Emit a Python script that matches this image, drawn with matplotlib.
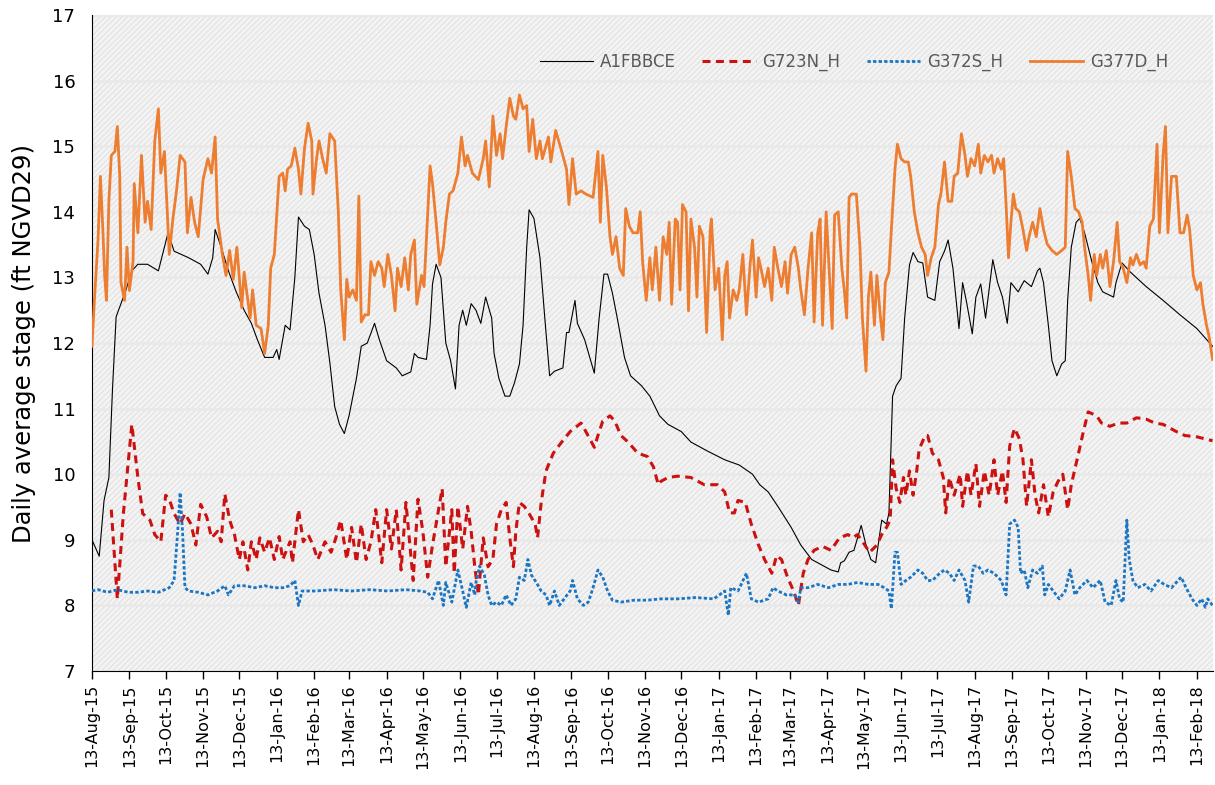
import pandas as pd
import matplotlib
matplotlib.use("Agg")
import matplotlib.pyplot as plt
import matplotlib.dates as mdates
from matplotlib.patches import Rectangle

# days after 13-Aug-2015, daily average stage (ft NGVD29)
start = pd.Timestamp("2015-08-13")
end_day = 928

a1fbbce = [
    (0, 9.0), (6, 8.75), (10, 9.6), (14, 9.95), (17, 11.3), (20, 12.4), (24, 12.6), (28, 12.8), (33, 13.1),
    (38, 13.2), (46, 13.2), (55, 13.1), (63, 13.68), (68, 13.4), (80, 13.3), (90, 13.2), (96, 13.05),
    (100, 13.3), (102, 13.73), (107, 13.46), (113, 13.1), (119, 12.8), (126, 12.5), (132, 12.3), (137, 12.05),
    (143, 11.78), (150, 11.78), (153, 11.9), (155, 11.75), (160, 12.27), (164, 12.2), (166, 12.6), (168, 13.0),
    (171, 13.92), (176, 13.78), (180, 13.73), (184, 13.35), (188, 12.76), (193, 12.27), (197, 11.7), (201, 11.03),
    (205, 10.76), (209, 10.62), (213, 10.9), (219, 11.46), (223, 11.95), (228, 12.0), (234, 12.3), (238, 12.05),
    (244, 11.73), (252, 11.62), (257, 11.5), (264, 11.56), (267, 11.84), (270, 11.78), (277, 11.75), (280, 12.27),
    (282, 12.9), (285, 13.2), (289, 13.0), (293, 12.0), (297, 11.73), (301, 11.3), (304, 12.27), (307, 12.5),
    (310, 12.27), (314, 12.6), (318, 12.5), (322, 12.3), (326, 12.7), (331, 12.38), (333, 11.84), (337, 11.46),
    (342, 11.19), (346, 11.19), (350, 11.4), (354, 11.68), (357, 12.27), (360, 13.46), (362, 14.03), (366, 13.9),
    (371, 13.3), (375, 12.38), (379, 11.5), (383, 11.57), (390, 11.62), (393, 12.16), (395, 12.16), (400, 12.65),
    (402, 12.3), (408, 12.05), (416, 11.54), (420, 12.38), (424, 13.05), (427, 13.05), (431, 12.76), (435, 12.38),
    (441, 11.78), (446, 11.5), (455, 11.35), (462, 11.19), (470, 10.89), (477, 10.76), (488, 10.65), (496, 10.49),
    (510, 10.35), (524, 10.22), (536, 10.14), (547, 10.0), (553, 9.84), (560, 9.73), (568, 9.51), (579, 9.19),
    (587, 8.92), (596, 8.7), (604, 8.62), (612, 8.54), (618, 8.51), (620, 8.65), (623, 8.68), (627, 8.81),
    (631, 8.84), (637, 9.22), (641, 8.92), (645, 8.7), (649, 8.65), (654, 9.3), (658, 9.24), (660, 9.41),
    (663, 11.19), (666, 11.35), (670, 11.46), (673, 12.38), (677, 13.19), (680, 13.38), (684, 13.24), (688, 13.22),
    (692, 12.7), (698, 12.65), (702, 13.24), (706, 13.4), (709, 13.57), (713, 13.14), (718, 12.22), (721, 12.92),
    (724, 12.65), (729, 12.14), (732, 12.7), (736, 12.9), (740, 12.38), (746, 13.27), (750, 12.92), (754, 12.7),
    (758, 12.3), (761, 12.92), (767, 12.78), (772, 12.95), (778, 12.86), (783, 13.1), (785, 13.14), (788, 12.92),
    (792, 12.27), (795, 11.73), (799, 11.5), (803, 11.68), (806, 11.73), (808, 12.65), (811, 13.46), (815, 13.84),
    (818, 13.9), (822, 13.68), (828, 13.24), (833, 12.92), (837, 12.78), (846, 12.7), (848, 12.92), (853, 13.22),
    (860, 13.08), (873, 12.86), (887, 12.65), (901, 12.43), (915, 12.22), (928, 11.95),
]

g723n_h = [
    (16, 9.46), (21, 8.1), (26, 9.4), (33, 10.76), (38, 9.95), (42, 9.4), (48, 9.3), (52, 9.08), (57, 8.97),
    (61, 9.68), (64, 9.62), (68, 9.4), (73, 9.24), (77, 9.4), (82, 9.24), (86, 8.92), (90, 9.54), (95, 9.35),
    (99, 9.03), (104, 9.13), (107, 8.97), (110, 9.7), (114, 9.3), (118, 9.08), (122, 8.7), (125, 8.97),
    (129, 8.54), (132, 8.97), (136, 8.7), (139, 9.03), (143, 8.81), (147, 9.03), (151, 8.7), (155, 9.05),
    (158, 8.7), (164, 8.97), (166, 8.65), (171, 9.46), (175, 8.97), (179, 9.08), (183, 8.92), (187, 8.7),
    (193, 8.97), (198, 8.81), (202, 9.03), (206, 9.3), (211, 8.7), (215, 9.19), (219, 8.65), (223, 9.24),
    (227, 8.7), (231, 8.97), (235, 9.46), (240, 8.65), (244, 9.46), (248, 8.86), (252, 9.46), (256, 8.54),
    (260, 9.57), (263, 8.97), (266, 8.38), (270, 9.62), (274, 9.13), (278, 8.43), (282, 8.92), (287, 9.46),
    (290, 9.78), (293, 8.59), (298, 9.46), (300, 8.49), (303, 9.51), (307, 8.86), (311, 9.51), (314, 9.13),
    (317, 8.59), (320, 8.16), (324, 9.03), (328, 8.59), (332, 8.7), (335, 9.24), (339, 9.46), (343, 9.57),
    (346, 9.03), (349, 8.59), (351, 9.13), (354, 9.57), (358, 9.51), (362, 9.4), (367, 9.24), (369, 9.03),
    (372, 9.57), (376, 10.05), (382, 10.32), (389, 10.49), (396, 10.65), (405, 10.78), (409, 10.65), (416, 10.41),
    (419, 10.59), (423, 10.81), (429, 10.89), (433, 10.81), (438, 10.59), (444, 10.49), (452, 10.32), (460, 10.27),
    (465, 10.11), (469, 9.84), (471, 9.89), (477, 9.95), (485, 9.97), (496, 9.95), (507, 9.84), (518, 9.84),
    (524, 9.73), (528, 9.41), (532, 9.41), (535, 9.6), (541, 9.57), (546, 9.24), (552, 8.92), (557, 8.7),
    (563, 8.49), (567, 8.76), (571, 8.7), (576, 8.43), (581, 8.22), (585, 8.0), (589, 8.49), (593, 8.7),
    (598, 8.84), (605, 8.9), (612, 8.84), (619, 9.03), (626, 9.08), (630, 9.03), (634, 9.08), (640, 8.92),
    (644, 8.81), (650, 8.92), (654, 9.08), (658, 9.19), (661, 9.3), (663, 10.22), (666, 9.78), (669, 9.57),
    (672, 9.95), (674, 9.68), (677, 10.05), (680, 9.68), (683, 10.05), (685, 10.38), (690, 10.59), (692, 10.59),
    (696, 10.32), (701, 10.22), (705, 9.95), (707, 9.41), (710, 9.95), (714, 9.68), (719, 10.0), (721, 9.51),
    (725, 10.05), (728, 9.68), (732, 10.16), (735, 9.51), (739, 10.05), (743, 9.68), (747, 10.22), (750, 9.68),
    (754, 10.05), (757, 9.57), (760, 10.43), (764, 10.7), (768, 10.54), (771, 10.22), (774, 9.51), (778, 10.22),
    (781, 9.68), (784, 9.41), (788, 9.84), (792, 9.35), (796, 9.73), (800, 9.89), (804, 10.0), (808, 9.46),
    (811, 9.84), (817, 10.32), (821, 10.65), (825, 10.95), (832, 10.89), (836, 10.78), (843, 10.73), (850, 10.78),
    (857, 10.78), (865, 10.86), (873, 10.84), (880, 10.78), (887, 10.76), (893, 10.7), (898, 10.65), (905, 10.59),
    (915, 10.57), (928, 10.51),
]

g372s_h = [
    (0, 8.22), (5, 8.24), (13, 8.2), (21, 8.24), (30, 8.2), (38, 8.2), (46, 8.22), (55, 8.2), (64, 8.27),
    (68, 8.38), (71, 9.13), (73, 9.72), (75, 9.13), (77, 8.27), (80, 8.22), (88, 8.2), (96, 8.16), (104, 8.22),
    (110, 8.3), (113, 8.16), (118, 8.3), (126, 8.3), (135, 8.27), (143, 8.3), (151, 8.27), (158, 8.27),
    (164, 8.3), (168, 8.38), (171, 8.0), (174, 8.22), (185, 8.22), (200, 8.24), (215, 8.22), (230, 8.24),
    (245, 8.22), (260, 8.24), (272, 8.22), (278, 8.2), (282, 8.1), (287, 8.38), (291, 8.0), (293, 8.35),
    (298, 8.05), (303, 8.54), (307, 8.22), (310, 7.97), (314, 8.35), (317, 8.16), (318, 8.35), (321, 8.6),
    (325, 8.46), (328, 8.16), (331, 8.0), (335, 8.05), (339, 8.0), (343, 8.16), (347, 8.0), (351, 8.1),
    (354, 8.43), (358, 8.38), (361, 8.7), (364, 8.46), (368, 8.35), (372, 8.22), (376, 8.16), (379, 8.0),
    (383, 8.22), (387, 8.0), (391, 8.1), (396, 8.22), (398, 8.38), (402, 8.1), (407, 8.0), (411, 8.05),
    (415, 8.27), (419, 8.54), (423, 8.43), (427, 8.22), (431, 8.08), (438, 8.05), (449, 8.08), (460, 8.08),
    (471, 8.1), (485, 8.1), (500, 8.12), (515, 8.1), (524, 8.22), (527, 7.85), (529, 8.27), (535, 8.22),
    (542, 8.49), (546, 8.1), (552, 8.05), (560, 8.1), (564, 8.27), (568, 8.22), (575, 8.16), (582, 8.16),
    (585, 8.05), (587, 8.27), (593, 8.27), (601, 8.32), (610, 8.27), (618, 8.32), (626, 8.32), (634, 8.35),
    (643, 8.32), (651, 8.32), (656, 8.27), (660, 8.22), (662, 7.95), (665, 8.81), (667, 8.81), (670, 8.32),
    (674, 8.38), (678, 8.43), (684, 8.54), (688, 8.49), (692, 8.38), (696, 8.38), (702, 8.49), (706, 8.54),
    (710, 8.49), (714, 8.38), (718, 8.54), (723, 8.38), (726, 8.05), (730, 8.6), (734, 8.6), (738, 8.49),
    (742, 8.54), (747, 8.49), (753, 8.38), (757, 8.16), (760, 9.24), (764, 9.3), (767, 9.19), (769, 8.49),
    (772, 8.54), (775, 8.27), (779, 8.54), (783, 8.49), (787, 8.6), (789, 8.16), (792, 8.32), (796, 8.22),
    (801, 8.1), (806, 8.22), (810, 8.54), (814, 8.16), (818, 8.27), (824, 8.38), (829, 8.27), (835, 8.38),
    (839, 8.05), (844, 8.0), (848, 8.38), (851, 8.1), (854, 8.05), (857, 9.3), (859, 8.7), (862, 8.38),
    (866, 8.27), (872, 8.32), (877, 8.22), (883, 8.38), (888, 8.32), (894, 8.27), (902, 8.43), (906, 8.27),
    (911, 8.1), (915, 8.0), (919, 8.1), (922, 7.97), (924, 8.1), (928, 8.0),
]

g377d_h = [
    (0, 11.95), (2, 12.65), (5, 13.57), (7, 14.54), (9, 13.73), (10.5, 13.03), (12, 12.65), (14, 14.16),
    (16, 14.86), (19, 14.92), (21, 15.3), (23, 14.54), (24, 12.92), (27, 12.65), (29, 13.46), (31, 12.8),
    (34, 13.24), (35, 14.43), (38, 13.68), (41, 14.86), (44, 13.84), (46, 14.16), (49, 13.73), (52, 15.08),
    (55, 15.57), (57, 14.59), (60, 14.92), (64, 13.35), (67, 13.89), (70, 14.32), (73, 14.86), (77, 14.76),
    (79, 13.68), (82, 14.22), (85, 13.84), (88, 13.62), (92, 14.49), (96, 14.81), (99, 14.59), (102, 15.14),
    (104, 13.89), (108, 13.35), (111, 13.03), (114, 13.41), (117, 12.97), (120, 13.46), (124, 12.54), (126, 13.08),
    (131, 12.38), (133, 12.81), (136, 12.27), (140, 12.22), (143, 11.84), (146, 12.27), (148, 13.14), (151, 13.35),
    (155, 14.54), (158, 14.59), (160, 14.32), (162, 14.65), (165, 14.7), (168, 14.97), (171, 14.65), (173, 14.27),
    (176, 14.97), (179, 15.35), (182, 15.08), (183, 14.27), (186, 14.81), (188, 15.08), (191, 14.81), (194, 14.59),
    (197, 15.19), (201, 15.08), (204, 14.0), (206, 12.81), (209, 12.05), (211, 12.97), (213, 12.7), (216, 12.81),
    (219, 12.65), (221, 14.24), (223, 12.32), (226, 12.43), (229, 12.43), (231, 13.24), (234, 13.03), (237, 13.24),
    (240, 13.14), (242, 12.86), (245, 13.35), (248, 13.03), (251, 12.49), (253, 13.14), (256, 12.86), (259, 13.3),
    (262, 12.81), (264, 13.35), (267, 13.57), (269, 12.59), (273, 13.03), (275, 12.86), (280, 14.7), (282, 14.43),
    (285, 13.84), (288, 13.19), (291, 13.46), (293, 13.84), (296, 14.27), (299, 14.32), (303, 14.59), (306, 15.14),
    (309, 14.7), (311, 14.86), (315, 14.59), (320, 14.49), (324, 14.81), (326, 15.08), (329, 14.38), (332, 15.46),
    (335, 14.86), (338, 15.19), (340, 14.81), (343, 15.3), (346, 15.73), (349, 15.46), (351, 15.41), (354, 15.78),
    (357, 15.57), (360, 15.62), (362, 14.92), (365, 15.41), (368, 14.81), (371, 15.08), (373, 14.81), (378, 15.14),
    (380, 14.76), (384, 15.24), (389, 14.92), (393, 14.65), (395, 14.11), (398, 14.81), (401, 14.27), (405, 14.32),
    (409, 14.27), (415, 14.22), (419, 14.92), (421, 13.84), (423, 14.86), (426, 14.38), (429, 13.62), (431, 13.35),
    (434, 13.62), (437, 13.14), (440, 13.03), (442, 14.05), (445, 13.78), (448, 13.68), (452, 13.68), (454, 14.0),
    (456, 13.24), (459, 12.65), (462, 13.3), (464, 12.81), (467, 13.46), (470, 12.65), (473, 13.62), (476, 13.35),
    (478, 13.84), (480, 12.59), (483, 13.89), (485, 13.84), (487, 12.81), (489, 14.11), (492, 14.0), (494, 12.49),
    (496, 13.89), (499, 13.46), (501, 12.7), (503, 13.78), (506, 13.62), (509, 12.16), (512, 13.73), (513, 13.89),
    (516, 12.81), (519, 13.14), (522, 12.05), (524, 13.03), (526, 13.24), (528, 12.38), (531, 12.81), (534, 12.65),
    (536, 12.81), (539, 13.35), (542, 12.43), (545, 13.19), (547, 13.57), (550, 12.7), (552, 13.3), (554, 13.14),
    (557, 12.86), (560, 13.14), (563, 12.65), (565, 13.46), (568, 13.14), (571, 12.86), (574, 13.24), (576, 12.76),
    (579, 13.35), (582, 13.46), (585, 13.14), (587, 12.81), (590, 12.43), (593, 13.14), (596, 13.68), (598, 12.32),
    (601, 13.68), (603, 13.89), (605, 12.27), (608, 14.0), (611, 12.92), (613, 12.22), (615, 13.95), (618, 14.0),
    (621, 13.14), (623, 12.81), (625, 12.38), (627, 14.22), (629, 14.27), (633, 14.27), (636, 13.46), (638, 12.38),
    (641, 11.57), (643, 12.7), (645, 13.08), (648, 12.27), (650, 13.03), (653, 12.38), (655, 12.05), (657, 12.92),
    (660, 13.08), (662, 13.73), (665, 14.65), (667, 15.03), (670, 14.81), (673, 14.76), (676, 14.76), (678, 14.54),
    (681, 14.0), (684, 13.68), (687, 13.46), (690, 13.35), (692, 13.03), (695, 13.3), (698, 13.46), (701, 14.11),
    (703, 14.27), (706, 14.76), (709, 14.16), (712, 14.16), (714, 14.54), (717, 14.59), (720, 15.19), (723, 14.86),
    (725, 14.54), (728, 14.81), (731, 14.7), (734, 15.03), (736, 14.59), (739, 14.86), (742, 14.76), (745, 14.86),
    (747, 14.59), (750, 14.81), (753, 14.65), (755, 14.81), (757, 14.11), (759, 13.3), (761, 13.84), (763, 14.27),
    (765, 14.05), (768, 14.0), (771, 13.73), (774, 13.41), (776, 13.62), (779, 13.84), (782, 13.62), (785, 14.05),
    (788, 13.73), (791, 13.51), (795, 13.41), (799, 13.35), (803, 13.41), (806, 13.46), (808, 14.92), (811, 14.54),
    (814, 14.05), (817, 14.0), (820, 13.84), (822, 13.46), (825, 13.03), (827, 12.65), (830, 13.35), (832, 13.03),
    (835, 13.35), (837, 13.14), (840, 13.41), (843, 12.86), (846, 13.24), (849, 13.84), (851, 13.24), (854, 13.14),
    (857, 12.92), (860, 13.3), (862, 13.19), (865, 13.35), (868, 13.19), (871, 13.24), (873, 13.14), (876, 13.78),
    (879, 13.89), (882, 15.03), (884, 13.68), (887, 14.86), (889, 15.3), (891, 13.68), (894, 14.54), (898, 14.54),
    (901, 13.68), (904, 13.68), (907, 13.95), (909, 13.73), (912, 13.03), (915, 12.81), (918, 12.92), (920, 12.59),
    (923, 12.27), (925, 12.11), (928, 11.75),
]


def to_xy(pairs):
    days = [d for d, v in pairs]
    vals = [v for d, v in pairs]
    return start + pd.to_timedelta(days, unit="D"), vals


plt.rcParams["hatch.linewidth"] = 0.5

fig = plt.figure(figsize=(12.15, 7.85), dpi=100)
ax = fig.add_axes([0.0757, 0.1452, 0.9223, 0.8357])

# hatched grey plot area
ax.add_patch(Rectangle((0, 0), 1, 1, transform=ax.transAxes, facecolor="#f3f3f3",
                       edgecolor="#d9d9d9", hatch="//////", lw=0, zorder=0))
ax.set_axisbelow(True)
ax.yaxis.grid(True, color="#e9e9e9", lw=2.0)

x, y = to_xy(a1fbbce)
ax.plot(x, y, color="black", lw=0.8, label="A1FBBCE", zorder=3)
x, y = to_xy(g723n_h)
ax.plot(x, y, color="#cc1111", lw=2.2, ls=(0, (2.6, 1.8)), label="G723N_H", zorder=3)
x, y = to_xy(g372s_h)
ax.plot(x, y, color="#1a75c2", lw=2.0, ls=(0, (1.2, 0.8)), label="G372S_H", zorder=3)
x, y = to_xy(g377d_h)
ax.plot(x, y, color="#ed7d31", lw=2.0, label="G377D_H", zorder=4)

ax.set_xlim(start, start + pd.Timedelta(days=end_day))
ax.set_ylim(7, 17)
ax.set_yticks(range(7, 18))

month_ticks = pd.date_range("2015-08-13", "2018-02-13", freq=pd.DateOffset(months=1))
ax.set_xticks(month_ticks)
ax.xaxis.set_major_formatter(mdates.DateFormatter("%d-%b-%y"))
ax.tick_params(axis="x", rotation=90, labelsize=11.5, length=6, width=1, direction="out")
ax.tick_params(axis="y", labelsize=13, length=0, pad=12)

for s in ["top", "right"]:
    ax.spines[s].set_visible(False)
ax.spines["left"].set_color("black")
ax.spines["bottom"].set_color("black")

ax.set_ylabel("Daily average stage (ft NGVD29)", fontsize=17.5, labelpad=12)

ax.legend(loc="upper center", bbox_to_anchor=(0.68, 0.965), ncol=4, frameon=False,
          fontsize=12, handlelength=3.2, columnspacing=1.6, handletextpad=0.4,
          labelcolor="#595959")

fig.savefig("out.png", dpi=100)
